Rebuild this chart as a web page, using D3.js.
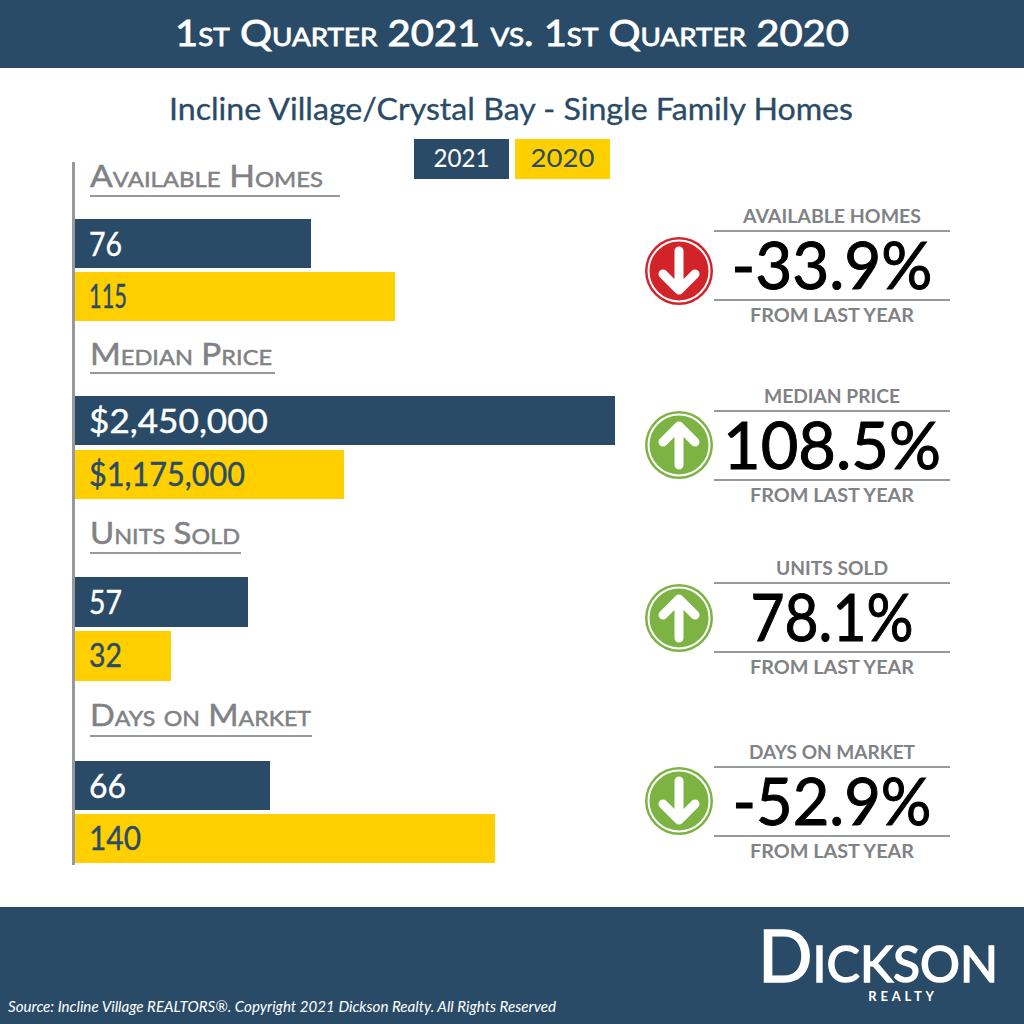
<!DOCTYPE html>
<html><head><meta charset="utf-8">
<script src="https://cdn.jsdelivr.net/npm/d3@7/dist/d3.min.js"></script>
<style>html,body{margin:0;padding:0;background:#fff}svg{display:block}text{font-family:Lato,sans-serif}</style>
</head><body><div id="c"></div>
<script>
const metrics = ["Available Homes","Median Price","Units Sold","Days on Market"];
const values2021 = [76,2450000,57,66];
const values2020 = [115,1175000,32,140];
const labels2021 = ["76","$2,450,000","57","66"];
const labels2020 = ["115","$1,175,000","32","140"];
const changes = ["-33.9%","108.5%","78.1%","-52.9%"];
const panelTitles = ["AVAILABLE HOMES","MEDIAN PRICE","UNITS SOLD","DAYS ON MARKET"];
const seriesNames = ["2021","2020"];

const NAVY="#2a4b67", YEL="#ffcf00", GRAY="#808285", LINE="#97999b", RED="#d2232a", GREEN="#7cb342";
const W=1024,H=1024;
const svg=d3.select("#c").append("svg").attr("width",W).attr("height",H);

// layout
const barLeft=75;
const rowTop=[219,396,577,761], barH=[49,49,50,49], gap2020=[53,54,54,53];
const headBase=[187,365,544,726], headLineY=[196,373,553,736], headEnd=[340,275,241,312];
const headWidth=[233,182,150,221];
const panelLine1=[231,411,583,767];
const circleY=[271,445,618,801];
const labelW2021=[33,179,33,37], labelW2020=[38,156,33,52];
const changeW=[201,218,163,199], titleW=[178,136,112,166];
// the source bars are per metric and not drawn to one scale
const lengths2021=[236,540,173,195], lengths2020=[320,269,96,420];
const xScales=metrics.map((m,i)=>{
  const pairs=[[values2021[i],lengths2021[i]],[values2020[i],lengths2020[i]]].sort((a,b)=>a[0]-b[0]);
  return d3.scaleLinear().domain([0,pairs[0][0],pairs[1][0]]).range([barLeft,barLeft+pairs[0][1],barLeft+pairs[1][1]]);
});
const fit=(s,w)=>s.attr("textLength",w).attr("lengthAdjust","spacingAndGlyphs");
const bold=(s,c,w)=>s.attr("stroke",c).attr("stroke-width",w);

svg.append("rect").attr("width",W).attr("height",68).attr("fill",NAVY);
svg.append("rect").attr("y",907).attr("width",W).attr("height",117).attr("fill",NAVY);

svg.append("text").attr("x",512).attr("y",46).attr("text-anchor","middle").attr("fill","#fff")
 .attr("font-size",36).style("font-variant","small-caps").call(fit,674).call(bold,"#fff",0.8)
 .text("1st Quarter 2021 vs. 1st Quarter 2020");
svg.append("text").attr("x",511).attr("y",120).attr("text-anchor","middle").attr("fill",NAVY)
 .attr("font-size",30).call(fit,684).call(bold,NAVY,0.3)
 .text("Incline Village/Crystal Bay - Single Family Homes");

// legend
const legX=d3.scaleBand().domain(seriesNames).range([414,610]).paddingInner(0.06);
const lg=svg.selectAll("g.leg").data(seriesNames).join("g");
lg.append("rect").attr("x",d=>legX(d)).attr("y",139).attr("width",legX.bandwidth()).attr("height",40).attr("fill",(d,i)=>i?YEL:NAVY);
lg.append("text").attr("x",d=>legX(d)+legX.bandwidth()/2).attr("y",167).attr("text-anchor","middle")
 .attr("font-size",25).attr("fill",(d,i)=>i?NAVY:"#fff").call(fit,(d,i)=>i?64:56).text(d=>d);

// axis rule
svg.append("rect").attr("x",72).attr("y",162).attr("width",3).attr("height",703).attr("fill",LINE);

metrics.forEach((m,i)=>{
  const g=svg.append("g");
  g.append("text").attr("x",90).attr("y",headBase[i]).attr("fill",GRAY).attr("font-size",31)
   .style("font-variant","small-caps").call(fit,headWidth[i]).call(bold,GRAY,0.5).text(m);
  g.append("rect").attr("x",90).attr("y",headLineY[i]-1).attr("width",headEnd[i]-90).attr("height",2).attr("fill",LINE);
  const x=xScales[i];
  g.append("rect").attr("x",barLeft).attr("y",rowTop[i]).attr("width",x(values2021[i])-barLeft).attr("height",barH[i]).attr("fill",NAVY);
  g.append("rect").attr("x",barLeft).attr("y",rowTop[i]+gap2020[i]).attr("width",x(values2020[i])-barLeft).attr("height",barH[i]).attr("fill",YEL);
  g.append("text").attr("x",89).attr("y",rowTop[i]+37).attr("fill","#fff").attr("font-size",32).call(fit,labelW2021[i]).call(bold,"#fff",0.4).text(labels2021[i]);
  g.append("text").attr("x",89).attr("y",rowTop[i]+gap2020[i]+36).attr("fill",NAVY).attr("font-size",32).call(fit,labelW2020[i]).call(bold,NAVY,0.4).text(labels2020[i]);

  // change panel
  const p=svg.append("g");
  const y1=panelLine1[i];
  p.append("text").attr("x",832).attr("y",y1-8).attr("text-anchor","middle").attr("fill",GRAY).attr("font-size",18).attr("font-weight",700).call(fit,titleW[i]).text(panelTitles[i]);
  p.append("rect").attr("x",714).attr("y",y1-1).attr("width",236).attr("height",2).attr("fill",LINE);
  p.append("rect").attr("x",714).attr("y",y1+68).attr("width",236).attr("height",2).attr("fill",LINE);
  p.append("text").attr("x",832).attr("y",y1+58).attr("text-anchor","middle").attr("fill","#000").attr("font-size",65).call(fit,changeW[i]).call(bold,"#000",1).text(changes[i]);
  p.append("text").attr("x",832).attr("y",y1+91).attr("text-anchor","middle").attr("fill",GRAY).attr("font-size",18).attr("font-weight",700).call(fit,164).text("FROM LAST YEAR");

  const col=i==0?RED:GREEN, dir=changes[i].startsWith("-")?1:-1;
  const c=p.append("g").attr("transform",`translate(679,${circleY[i]})`);
  c.append("circle").attr("r",34).attr("fill",col);
  c.append("circle").attr("r",30.5).attr("fill","none").attr("stroke","#fff").attr("stroke-width",2);
  c.append("path").attr("d",`M0,${-20*dir}L0,${19*dir}M-16,${3*dir}L0,${19*dir}L16,${3*dir}`)
   .attr("fill","none").attr("stroke","#fff").attr("stroke-width",9).attr("stroke-linecap","round").attr("stroke-linejoin","round");
});

// footer
svg.append("text").attr("x",8).attr("y",1012).attr("fill","#fff").attr("font-size",14.5).attr("font-style","italic")
 .call(fit,548).text("Source: Incline Village REALTORS®. Copyright 2021 Dickson Realty. All Rights Reserved");
svg.append("text").attr("x",758).attr("y",982).attr("fill","#fff").attr("font-size",72).style("font-variant","small-caps")
 .call(fit,240).call(bold,"#fff",1.5).text("Dickson");
svg.append("text").attr("x",903).attr("y",1001).attr("text-anchor","middle").attr("fill","#fff").attr("font-size",13).attr("font-weight",700).attr("letter-spacing",3.8).text("REALTY");
</script></body></html>
